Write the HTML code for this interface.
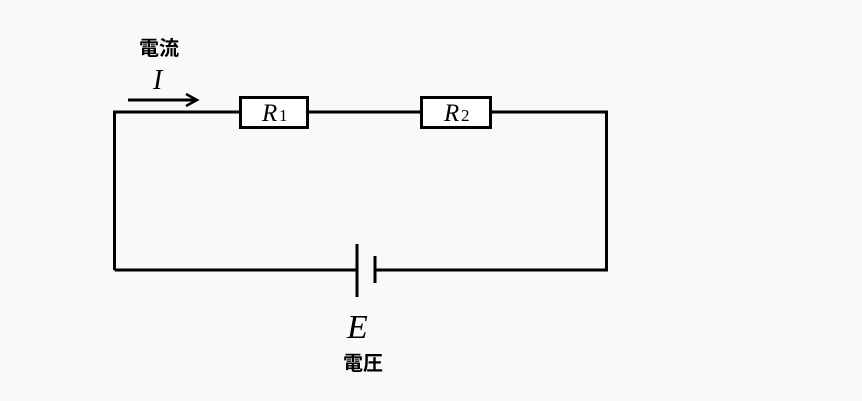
<!DOCTYPE html>
<html><head><meta charset="utf-8"><style>
html,body{margin:0;padding:0;background:#f9f9f9;width:862px;height:401px;overflow:hidden}
svg{display:block}
.j{font-family:"Liberation Sans","Noto Sans CJK JP",sans-serif;font-weight:bold;font-size:20px}
.m{font-family:"Liberation Serif",serif;font-style:italic}
</style></head><body>
<svg width="862" height="401" xmlns="http://www.w3.org/2000/svg">
<g stroke="#000" stroke-width="3" fill="none">
<polyline points="114.5,270 114.5,112 606.5,112 606.5,270 375,270"/>
<line x1="114.5" y1="270" x2="357" y2="270"/>
<line x1="357" y1="244" x2="357" y2="297"/>
<line x1="375" y1="256" x2="375" y2="283"/>
<line x1="128" y1="100" x2="194" y2="100"/>
<polyline points="186,94 197,100 186,106" stroke-width="2.5"/>
<rect x="240.5" y="97.5" width="67" height="30" fill="#fff"/>
<rect x="421.5" y="97.5" width="69" height="30" fill="#fff"/>
</g>
<text class="j" x="139" y="55">電流</text>
<text class="m" x="153" y="89" font-size="28">I</text>
<text class="m" x="262" y="121" font-size="25">R</text>
<text x="279" y="121" font-family="Liberation Serif,serif" font-size="17">1</text>
<text class="m" x="444" y="121" font-size="25">R</text>
<text x="461" y="121" font-family="Liberation Serif,serif" font-size="17">2</text>
<text class="m" x="347" y="338" font-size="34">E</text>
<text class="j" x="343" y="370">電圧</text>
</svg>
</body></html>
